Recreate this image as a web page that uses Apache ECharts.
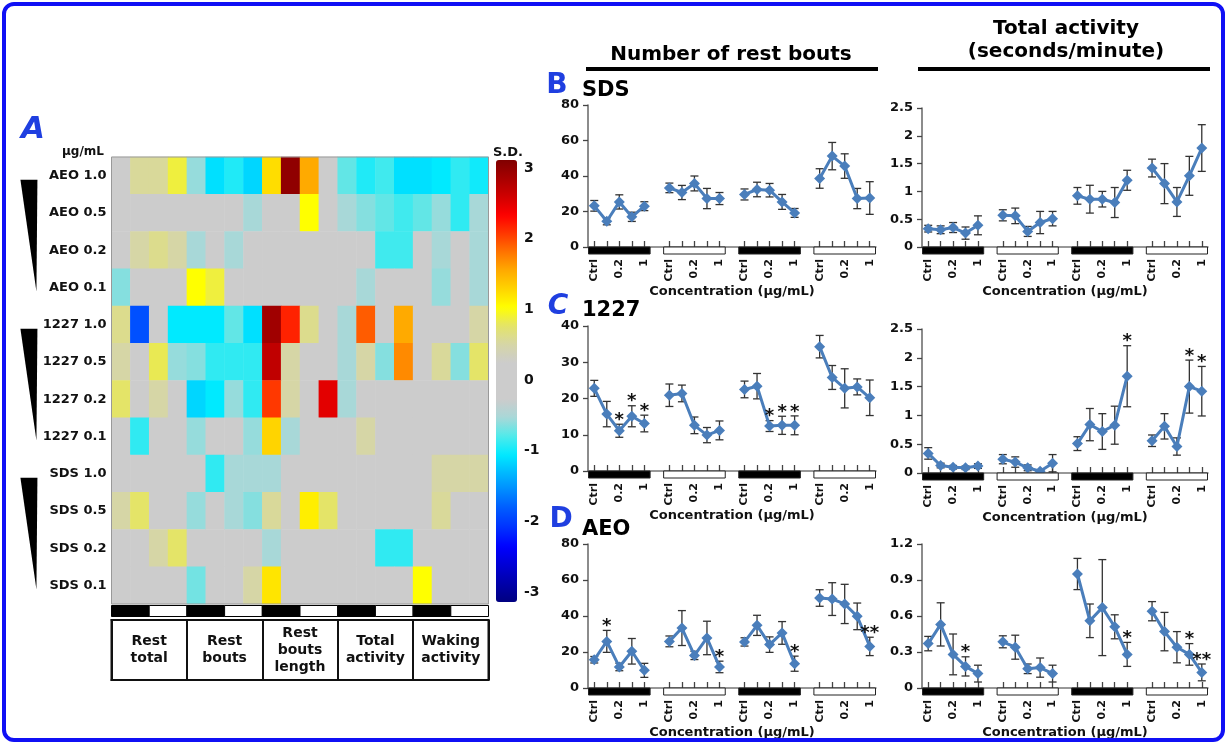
<!DOCTYPE html>
<html><head><meta charset="utf-8">
<script src="https://cdn.jsdelivr.net/npm/echarts@6/dist/echarts.min.js"></script>
<style>html,body{margin:0;padding:0;background:#fff}#c{width:1227px;height:744px}</style>
</head><body><div id="c"></div>
<script>
// ---------------- Panel A data ----------------
const heatRowLabels = ['AEO 1.0','AEO 0.5','AEO 0.2','AEO 0.1','1227 1.0','1227 0.5','1227 0.2','1227 0.1','SDS 1.0','SDS 0.5','SDS 0.2','SDS 0.1'];
const measureLabels = ['Rest\ntotal','Rest\nbouts','Rest\nbouts\nlength','Total\nactivity','Waking\nactivity'];
const aeoHeat = [
  [0,0.55,0.55,0.85,-0.55,-1.05,-0.9,-1.1,1.2,2.9,1.5,0,-0.7,-0.9,-0.8,-1.05,-1.05,-1.0,-0.85,-0.95],
  [0,0,0,0,0,0,0,-0.5,0,0,1.0,0,-0.5,-0.6,-0.7,-0.8,-0.7,-0.55,-0.85,-0.5],
  [0,0.5,0.6,0.5,-0.5,0,-0.5,0,0,0,0,0,0,0,-0.8,-0.8,0,-0.5,0,-0.5],
  [-0.6,0,0,0,1.0,0.85,0,0,0,0,0,0,0,-0.5,0,0,0,-0.55,0,-0.5]
];
const c1227Heat = [
  [0.6,-1.8,0,-1.0,-1.0,-1.0,-0.7,-1.05,2.8,2.1,0.6,0,-0.5,1.85,0,1.5,0,0,0,0.5],
  [0.5,0,0.8,-0.55,-0.6,-0.85,-0.85,-0.85,2.6,0.5,0,0,-0.5,0.5,-0.6,1.65,0,0.55,-0.6,0.75],
  [0.75,0,0.5,0,-1.1,-1.0,-0.55,-0.85,2.0,0.5,0,2.4,-0.5,0,0,0,0,0,0,0],
  [0,-0.85,0,0,-0.55,0,0,-0.55,1.25,-0.5,0,0,0,0.5,0,0,0,0,0,0]
];
const sdsHeat = [
  [0,0,0,0,0,-0.85,-0.5,-0.5,-0.5,0,0,0,0,0,0,0,0,0.5,0.5,0.5],
  [0.5,0.75,0,0,-0.55,0,-0.5,-0.6,0.55,0,1.1,0.75,0,0,0,0,0,0.55,0,0],
  [0,0,0.5,0.75,0,0,0,0,-0.5,0,0,0,0,0,-0.85,-0.85,0,0,0,0],
  [0,0,0,0,-0.65,0,0,0.5,1.15,0,0,0,0,0,0,0,1.0,0,0,0]
];
const sdMin = -3, sdMax = 3, sdStep = 1;

// ---------------- Panels B-D data ----------------
const doseTickLabels = ['Ctrl','','0.2','','1'];
const sdsBoutsMean = [23.2,14.5,25.4,17.0,23.0, 33.3,30.7,35.8,27.3,27.3, 29.6,32.4,32.0,25.4,19.2, 38.6,51.2,45.6,27.3,27.6];
const sdsBoutsErr  = [3.0,2.0,4.0,2.6,2.5, 2.7,4.0,4.2,5.7,3.4, 3.1,4.1,3.8,4.2,2.5, 5.5,7.7,6.9,5.7,9.2];
const sdsBoutsStars = ['','','','','', '','','','','', '','','','','', '','','','',''];
const sdsActMean = [0.33,0.31,0.35,0.25,0.39, 0.57,0.56,0.28,0.44,0.51, 0.92,0.86,0.86,0.80,1.20, 1.42,1.14,0.81,1.28,1.78];
const sdsActErr  = [0.06,0.07,0.09,0.11,0.17, 0.10,0.14,0.09,0.20,0.13, 0.15,0.25,0.14,0.27,0.18, 0.16,0.36,0.26,0.35,0.42];
const sdsActStars = ['','','','','', '','','','','', '','','','','', '','','','',''];

const c1227BoutsMean = [22.8,15.7,11.1,15.1,13.1, 20.9,21.4,12.6,9.9,11.2, 22.5,23.4,12.4,12.6,12.6, 34.3,25.8,22.8,23.2,20.2];
const c1227BoutsErr  = [2.2,3.5,1.8,2.9,2.3, 3.1,2.3,2.3,2.1,2.6, 2.3,3.5,1.5,2.5,2.6, 3.1,3.3,5.4,2.2,4.9];
const c1227BoutsStars = ['','','*','*','*', '','','','','', '','','*','*','*', '','','','',''];
const c1227ActMean = [0.34,0.13,0.10,0.09,0.12, 0.24,0.19,0.09,0.03,0.17, 0.51,0.84,0.72,0.83,1.68, 0.56,0.81,0.46,1.50,1.42];
const c1227ActErr  = [0.10,0.04,0.03,0.03,0.04, 0.08,0.09,0.05,0.02,0.15, 0.12,0.28,0.31,0.33,0.53, 0.10,0.22,0.15,0.46,0.43];
const c1227ActStars = ['','','','','', '','','','','', '','','','','*', '','','','*','*'];

const aeoBoutsMean = [15.7,25.9,11.7,20.4,9.8, 25.9,33.3,18.1,27.8,11.7, 25.6,34.8,24.1,30.6,13.5, 50.0,49.4,46.7,39.8,23.1];
const aeoBoutsErr  = [1.8,6.1,2.1,7.1,3.9, 3.0,9.7,2.3,9.3,3.2, 2.3,5.6,4.3,6.3,4.2, 4.6,9.1,10.9,7.4,5.1];
const aeoBoutsStars = ['','*','','','', '','','','','*', '','','','','*', '','','','','**'];
const aeoActMean = [0.37,0.53,0.28,0.18,0.12, 0.385,0.34,0.16,0.17,0.12, 0.95,0.56,0.67,0.51,0.28, 0.64,0.47,0.34,0.28,0.13];
const aeoActErr  = [0.06,0.18,0.17,0.08,0.07, 0.05,0.10,0.04,0.08,0.07, 0.13,0.14,0.40,0.10,0.10, 0.08,0.16,0.13,0.09,0.07];
const aeoActStars = ['','','','*','', '','','','','', '','','','','*', '','','','*','**'];

// ---------------- Build ----------------
const FONT = "'DejaVu Sans', sans-serif";
const BLUE = '#4a7ebb';
const heatAll = aeoHeat.concat(c1227Heat, sdsHeat);
const heatData = [];
heatAll.forEach((row, r) => row.forEach((v, c) => heatData.push([c, r, v])));
const heatCols = heatAll[0].map((_, i) => String(i));

const xCats = [];
for (let g = 0; g < 4; g++) { doseTickLabels.forEach(l => xCats.push(l)); if (g < 3) xCats.push(''); }
const gapSlots = [5, 11, 17];
const slotOf = i => i + Math.floor(i / 5);
const toSlots = arr => { const o = new Array(xCats.length).fill(null); arr.forEach((v, i) => o[slotOf(i)] = v); return o; };

const colorStops = ['#000080','#0000aa','#0000d4','#0000ff','#0030ff','#0058ff','#0088ff','#00b8ff','#00eaff','#50eaea','#a8d8d8','#cccccc','#cccccc','#cccccc','#d6d6a6','#e4e468','#ffff00','#ffd400','#ffaa00','#ff7400','#ff3800','#ff0000','#d00000','#a80000','#800000'];

const panels = [
  {g:{left:588,top:105,width:288,height:142}, max:80, step:20, mean:sdsBoutsMean, err:sdsBoutsErr, stars:sdsBoutsStars},
  {g:{left:922,top:108,width:286,height:139}, max:2.5, step:0.5, mean:sdsActMean, err:sdsActErr, stars:sdsActStars},
  {g:{left:588,top:326,width:288,height:145}, max:40, step:10, mean:c1227BoutsMean, err:c1227BoutsErr, stars:c1227BoutsStars},
  {g:{left:922,top:329,width:286,height:144}, max:2.5, step:0.5, mean:c1227ActMean, err:c1227ActErr, stars:c1227ActStars},
  {g:{left:588,top:544,width:288,height:144}, max:80, step:20, mean:aeoBoutsMean, err:aeoBoutsErr, stars:aeoBoutsStars},
  {g:{left:922,top:544,width:286,height:144}, max:1.2, step:0.3, mean:aeoActMean, err:aeoActErr, stars:aeoActStars}
];

const grids = [
  {left:111.5, top:157, width:377, height:447, show:false},
  {left:496, top:168, width:21, height:424, show:false}
];
const xAxes = [
  {gridIndex:0, type:'category', data:heatCols, axisLine:{show:false}, axisTick:{show:false}, axisLabel:{show:false}, splitLine:{show:false}},
  {gridIndex:0, type:'category', data:measureLabels, position:'bottom', offset:16,
   axisLine:{show:true, lineStyle:{color:'#111', width:2}},
   axisTick:{show:true, length:60, interval:0, lineStyle:{color:'#111', width:2}},
   axisLabel:{interval:0, margin:30, verticalAlign:'middle', fontFamily:FONT, fontWeight:'bold', fontSize:14, lineHeight:17, color:'#111'}},
  {gridIndex:0, type:'category', data:measureLabels, position:'bottom', offset:76,
   axisLine:{show:true, lineStyle:{color:'#111', width:2}}, axisTick:{show:false}, axisLabel:{show:false}},
  {gridIndex:1, type:'value', show:false, min:0, max:1}
];
const yAxes = [
  {gridIndex:0, type:'category', data:heatRowLabels, inverse:true, axisLine:{show:false},
   axisTick:{show:false}, axisLabel:{margin:5, fontFamily:FONT, fontWeight:'bold', fontSize:13, color:'#111'}},
  {gridIndex:1, type:'value', min:sdMin, max:sdMax, interval:sdStep, position:'right',
   axisLine:{show:false}, axisTick:{show:false}, splitLine:{show:false},
   axisLabel:{margin:7, fontFamily:FONT, fontWeight:'bold', fontSize:14, color:'#111'}}
];

const series = [
  {type:'heatmap', xAxisIndex:0, yAxisIndex:0, data:heatData, progressive:0, emphasis:{disabled:true}, z:2},
  // dark/light phase bars under heatmap
  {type:'custom', xAxisIndex:0, yAxisIndex:0, clip:false, z:3, silent:true,
   data:[0,2,4,6,8,10,12,14,16,18].map(c => [c, heatRowLabels.length - 1]),
   renderItem:(params, api) => {
     const p = api.coord([api.value(0), api.value(1)]);
     const s = api.size([1, 1]);
     const dark = params.dataIndex % 2 === 0;
     return {type:'rect', shape:{x:p[0]-s[0]/2, y:p[1]+s[1]/2+1.5, width:s[0]*2, height:11},
             style:{fill: dark ? '#000' : '#fff', stroke:'#000', lineWidth:1}};
   }},
  // concentration triangles
  {type:'custom', xAxisIndex:0, yAxisIndex:0, clip:false, z:3, silent:true,
   data:[[0,0,3],[0,4,7],[0,8,11]], encode:{x:0, y:1},
   renderItem:(params, api) => {
     const a = api.coord([0, api.value(1)]);
     const b = api.coord([0, api.value(2)]);
     const x0 = a[0] - 100.5;
     return {type:'polygon', shape:{points:[[x0, a[1]+4],[x0+17, a[1]+4],[x0+16, b[1]+4]]}, style:{fill:'#000'}};
   }}
];

panels.forEach((p, k) => {
  grids.push(Object.assign({show:false}, p.g));
  const xi = xAxes.length, yi = yAxes.length;
  xAxes.push({gridIndex:grids.length-1, type:'category', data:xCats, boundaryGap:true,
    axisLine:{show:true, lineStyle:{color:'#777', width:1.5}},
    axisTick:{show:true, inside:true, length:6, alignWithLabel:true, interval:(i) => !gapSlots.includes(i), lineStyle:{color:'#444', width:1.3}},
    axisLabel:{interval:0, rotate:90, margin:12, fontFamily:FONT, fontWeight:'bold', fontSize:11, color:'#111'},
    name:'Concentration (μg/mL)', nameLocation:'middle', nameGap:36,
    nameTextStyle:{fontFamily:FONT, fontWeight:'bold', fontSize:13, color:'#111'}});
  yAxes.push({gridIndex:grids.length-1, type:'value', min:0, max:p.max, interval:p.step,
    axisLine:{show:true, lineStyle:{color:'#666', width:1.5}},
    axisTick:{show:true, length:5, lineStyle:{color:'#444', width:1.3}},
    splitLine:{show:false},
    axisLabel:{margin:9, fontFamily:FONT, fontWeight:'bold', fontSize:13, color:'#111'}});
  // dark/light bars under x axis
  series.push({type:'custom', xAxisIndex:xi, yAxisIndex:yi, clip:false, silent:true, z:4,
    data:[0,6,12,18].map(s => [s, 0]),
    renderItem:(params, api) => {
      const a = api.coord([api.value(0), 0]);
      const b = api.coord([api.value(0) + 4, 0]);
      const bw = api.size([1, 0])[0];
      const dark = params.dataIndex % 2 === 0;
      return {type:'rect', shape:{x:a[0]-bw/2+0.5, y:a[1], width:b[0]-a[0]+bw-1, height:7},
              style:{fill: dark ? '#000' : '#fff', stroke:'#222', lineWidth:1}};
    }});
  // error bars
  series.push({type:'custom', xAxisIndex:xi, yAxisIndex:yi, silent:true, z:2, encode:{x:0, y:[1,2]},
    data:p.mean.map((m, i) => [slotOf(i), m - p.err[i], m + p.err[i]]),
    renderItem:(params, api) => {
      const lo = api.coord([api.value(0), Math.max(0, api.value(1))]);
      const hi = api.coord([api.value(0), api.value(2)]);
      const w = 4, st = {stroke:'#333', lineWidth:1.3};
      return {type:'group', children:[
        {type:'line', shape:{x1:lo[0], y1:lo[1], x2:hi[0], y2:hi[1]}, style:st},
        {type:'line', shape:{x1:lo[0]-w, y1:lo[1], x2:lo[0]+w, y2:lo[1]}, style:st},
        {type:'line', shape:{x1:hi[0]-w, y1:hi[1], x2:hi[0]+w, y2:hi[1]}, style:st}
      ]};
    }});
  // mean line
  series.push({type:'line', xAxisIndex:xi, yAxisIndex:yi, data:toSlots(p.mean), connectNulls:false,
    symbol:'diamond', symbolSize:11, lineStyle:{color:BLUE, width:3}, itemStyle:{color:BLUE}, z:3, silent:true});
  // significance stars
  const starIdx = p.stars.map((s, i) => s ? i : -1).filter(i => i >= 0);
  series.push({type:'custom', xAxisIndex:xi, yAxisIndex:yi, silent:true, clip:false, z:5,
    data:starIdx.map(i => [slotOf(i), p.mean[i] + p.err[i]]),
    renderItem:(params, api) => {
      const c = api.coord([api.value(0), api.value(1)]);
      return {type:'text', x:c[0], y:c[1]-4,
        style:{text:p.stars[starIdx[params.dataIndex]], align:'center', verticalAlign:'middle', fontFamily:FONT, fontWeight:'bold', fontSize:18, fill:'#111'}};
    }});
});

const LBLUE = '#1f3fe0';
const graphic = [
  {type:'rect', shape:{x:4, y:4, width:1219, height:736, r:10}, style:{fill:'none', stroke:'#1010f5', lineWidth:4}, z:10},
  {type:'text', x:33, y:130, style:{text:'A', font:'italic bold 31px ' + FONT, fill:LBLUE, align:'center', verticalAlign:'middle'}},
  {type:'text', x:557, y:86, style:{text:'B', font:'bold 28px ' + FONT, fill:LBLUE, align:'center', verticalAlign:'middle'}},
  {type:'text', x:558, y:307, style:{text:'C', font:'italic bold 28px ' + FONT, fill:LBLUE, align:'center', verticalAlign:'middle'}},
  {type:'text', x:561, y:520, style:{text:'D', font:'bold 28px ' + FONT, fill:LBLUE, align:'center', verticalAlign:'middle'}},
  {type:'text', x:582, y:91, style:{text:'SDS', font:'bold 21px ' + FONT, fill:'#000', verticalAlign:'middle'}},
  {type:'text', x:582, y:311, style:{text:'1227', font:'bold 21px ' + FONT, fill:'#000', verticalAlign:'middle'}},
  {type:'text', x:582, y:530, style:{text:'AEO', font:'bold 21px ' + FONT, fill:'#000', verticalAlign:'middle'}},
  {type:'text', x:731, y:55, style:{text:'Number of rest bouts', font:'bold 20px ' + FONT, fill:'#000', align:'center', verticalAlign:'middle'}},
  {type:'rect', shape:{x:586, y:67, width:292, height:4}, style:{fill:'#000'}},
  {type:'text', x:1066, y:29, style:{text:'Total activity', font:'bold 20px ' + FONT, fill:'#000', align:'center', verticalAlign:'middle'}},
  {type:'text', x:1066, y:52, style:{text:'(seconds/minute)', font:'bold 20px ' + FONT, fill:'#000', align:'center', verticalAlign:'middle'}},
  {type:'rect', shape:{x:918, y:67, width:292, height:4}, style:{fill:'#000'}},
  {type:'text', x:83, y:152, style:{text:'μg/mL', font:'bold 12px ' + FONT, fill:'#111', align:'center', verticalAlign:'middle'}},
  {type:'text', x:508, y:153, style:{text:'S.D.', font:'bold 13px ' + FONT, fill:'#111', align:'center', verticalAlign:'middle'}},
  {type:'rect', shape:{x:111.5, y:620, width:377, height:60}, style:{fill:'none', stroke:'#111', lineWidth:2}},
  {type:'rect', shape:{x:111.5, y:157, width:377, height:447}, style:{fill:'none', stroke:'#999', lineWidth:1}, z:5}
];

const chart = echarts.init(document.getElementById('c'), null, {renderer:'canvas', width:1227, height:744});
chart.setOption({
  animation:false,
  backgroundColor:'#fff',
  grid:grids, xAxis:xAxes, yAxis:yAxes, series:series, graphic:graphic,
  visualMap:{type:'continuous', min:sdMin, max:sdMax, seriesIndex:0, calculable:false, hoverLink:false,
    left:496, top:160, itemWidth:21, itemHeight:442, padding:0, orient:'vertical',
    inRange:{color:colorStops}}
});
</script></body></html>
